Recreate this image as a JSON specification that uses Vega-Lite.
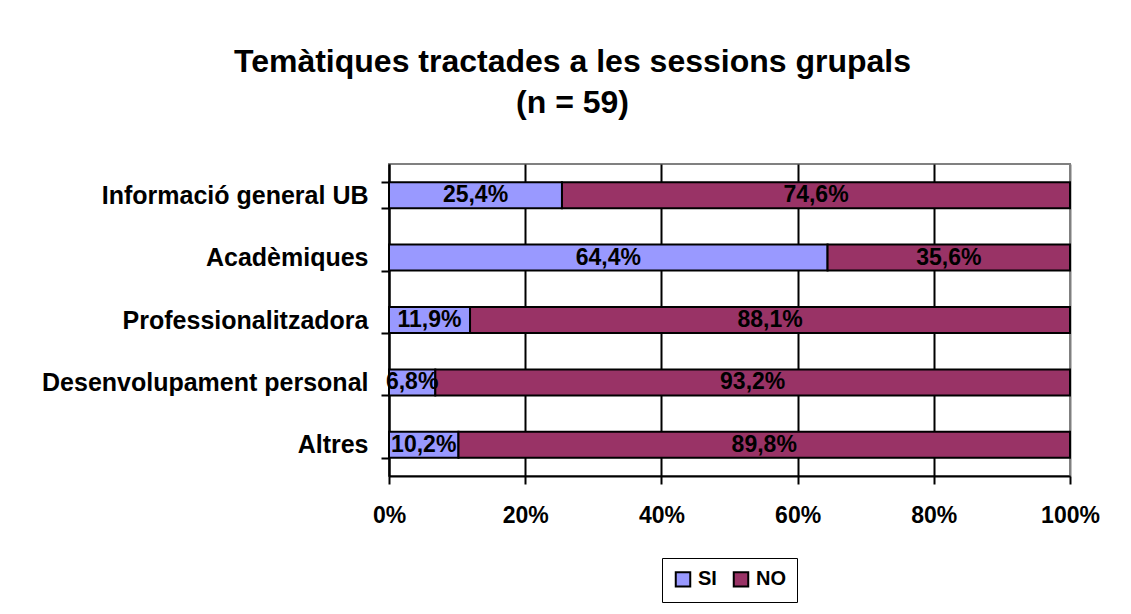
{
  "$schema": "https://vega.github.io/schema/vega-lite/v6.json",
  "width": 681,
  "height": 312,
  "autosize": {"type": "none"},
  "padding": {"left": 389, "top": 164, "right": 61, "bottom": 138},
  "background": "white",
  "title": {
    "text": ["Temàtiques tractades a les sessions grupals", "(n = 59)"],
    "font": "Liberation Sans",
    "fontSize": 32,
    "fontWeight": "bold",
    "color": "black",
    "anchor": "middle",
    "dx": -157,
    "offset": 32,
    "lineHeight": 41
  },
  "data": {
    "values": [
      {"cat": "Informació general UB", "resp": "SI", "value": 0.254},
      {"cat": "Informació general UB", "resp": "NO", "value": 0.746},
      {"cat": "Acadèmiques", "resp": "SI", "value": 0.644},
      {"cat": "Acadèmiques", "resp": "NO", "value": 0.356},
      {"cat": "Professionalitzadora", "resp": "SI", "value": 0.119},
      {"cat": "Professionalitzadora", "resp": "NO", "value": 0.881},
      {"cat": "Desenvolupament personal", "resp": "SI", "value": 0.068},
      {"cat": "Desenvolupament personal", "resp": "NO", "value": 0.932},
      {"cat": "Altres", "resp": "SI", "value": 0.102},
      {"cat": "Altres", "resp": "NO", "value": 0.898}
    ]
  },
  "transform": [
    {"stack": "value", "groupby": ["cat"], "sort": [{"field": "resp", "order": "descending"}], "as": ["v0", "v1"]},
    {"calculate": "(datum.v0 + datum.v1) / 2", "as": "mid"}
  ],
  "encoding": {
    "y": {
      "field": "cat",
      "type": "nominal",
      "sort": ["Informació general UB", "Acadèmiques", "Professionalitzadora", "Desenvolupament personal", "Altres"],
      "scale": {"paddingInner": 0.583, "paddingOuter": 0.2915},
      "axis": {
        "title": null,
        "domainColor": "black",
        "domainWidth": 2,
        "ticks": true,
        "tickBand": "extent",
        "tickColor": "black",
        "tickWidth": 2,
        "tickSize": 8,
        "labelFont": "Liberation Sans",
        "labelFontSize": 25,
        "labelFontWeight": "bold",
        "labelColor": "black",
        "labelPadding": 13,
        "labelLimit": 500,
        "grid": false
      }
    }
  },
  "layer": [
    {
      "mark": {"type": "bar", "stroke": "black", "strokeWidth": 2},
      "encoding": {
        "x": {
          "field": "v0",
          "type": "quantitative",
          "scale": {"domain": [0, 1], "nice": false},
          "axis": {
            "title": null,
            "values": [0, 0.2, 0.4, 0.6, 0.8, 1],
            "format": ".0%",
            "grid": true,
            "gridColor": {"condition": {"test": "datum.value >= 1", "value": "#808080"}, "value": "black"},
            "gridWidth": 2,
            "gridOpacity": 1,
            "domainColor": "black",
            "domainWidth": 2,
            "tickColor": "black",
            "tickWidth": 2,
            "tickSize": 8,
            "labelFont": "Liberation Sans",
            "labelFontSize": 23,
            "labelFontWeight": "bold",
            "labelColor": "black",
            "labelPadding": 20,
            "labelFlush": false
          }
        },
        "x2": {"field": "v1"},
        "color": {
          "field": "resp",
          "type": "nominal",
          "scale": {"domain": ["SI", "NO"], "range": ["#9999FF", "#993366"]},
          "legend": {
            "title": null,
            "orient": "none",
            "legendX": 273,
            "legendY": 394,
            "direction": "horizontal",
            "strokeColor": "black",
            "padding": 11,
            "symbolType": "square",
            "symbolSize": 210,
            "symbolStrokeColor": "black",
            "symbolStrokeWidth": 2,
            "symbolOpacity": 1,
            "labelFont": "Liberation Sans",
            "labelFontSize": 20,
            "labelFontWeight": "bold",
            "labelColor": "black",
            "labelOffset": 5,
            "columnPadding": 12
          }
        }
      }
    },
    {
      "mark": {"type": "text", "font": "Liberation Sans", "fontSize": 23, "fontWeight": "bold", "color": "black", "align": "center", "baseline": "middle"},
      "encoding": {
        "x": {"field": "mid", "type": "quantitative"},
        "text": {"field": "value", "type": "quantitative", "format": ".1%"}
      }
    }
  ],
  "config": {
    "locale": {"number": {"decimal": ",", "thousands": ".", "grouping": [3], "currency": ["", " €"]}},
    "view": {"stroke": "#808080", "strokeWidth": 2}
  }
}
